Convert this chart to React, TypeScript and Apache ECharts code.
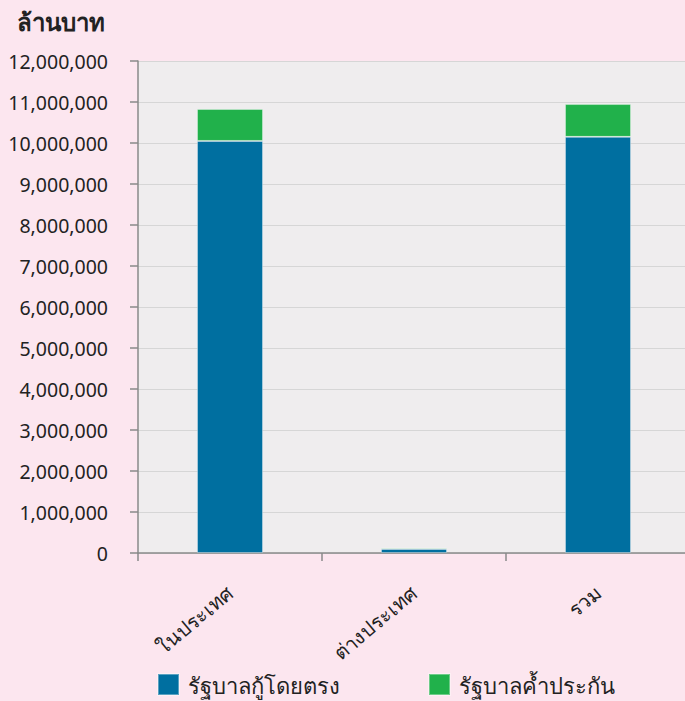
import React, { useEffect, useRef } from "react";
import * as echarts from "echarts";

const categories = ["ในประเทศ", "ต่างประเทศ", "รวม"];
const directBorrowing = [10050000, 100000, 10150000];
const guaranteed = [780000, 30000, 800000];
const seriesNames = ["รัฐบาลกู้โดยตรง", "รัฐบาลค้ำประกัน"];
const unitLabel = "ล้านบาท";

export default function App() {
  const ref = useRef<HTMLDivElement>(null);
  useEffect(() => {
    document.body.style.margin = "0";
    const chart = echarts.init(ref.current!, null, { renderer: "svg" });
    const font = "Noto Sans";
    chart.setOption({
      animation: false,
      backgroundColor: "#fce6ef",
      title: {
        text: unitLabel,
        left: 12,
        top: 4,
        textStyle: { fontSize: 24, fontWeight: "bold", color: "#222", fontFamily: font },
      },
      legend: {
        top: 668,
        left: 152,
        itemWidth: 21,
        itemHeight: 21,
        itemGap: 88,
        icon: "rect",
        textStyle: { fontSize: 22, color: "#222", fontFamily: font, padding: [0, 0, 0, 4] },
        data: seriesNames,
      },
      grid: {
        left: 138,
        top: 61,
        width: 552,
        height: 492,
        show: true,
        backgroundColor: "#efedee",
        borderWidth: 0,
        outerBoundsMode: "none",
        containLabel: false,
      },
      xAxis: {
        type: "category",
        data: categories,
        axisLine: { lineStyle: { color: "#8a8a8a", width: 1.5 } },
        axisTick: { show: true, length: 8, lineStyle: { color: "#8a8a8a", width: 1.5 } },
        axisLabel: { show: true, rotate: 40, fontSize: 20, color: "#222", margin: 37, fontFamily: font },
      },
      yAxis: {
        type: "value",
        min: 0,
        max: 12000000,
        interval: 1000000,
        axisLine: { show: true, lineStyle: { color: "#8a8a8a", width: 1.5 } },
        axisTick: { show: true, length: 8, lineStyle: { color: "#8a8a8a", width: 1.5 } },
        splitLine: { lineStyle: { color: "#d6d6d6", width: 1 } },
        axisLabel: {
          show: true,
          fontSize: 19.5,
          color: "#222",
          margin: 30,
          fontFamily: font,
          formatter: (v: number) => v.toLocaleString("en-US"),
        },
      },
      series: [
        {
          name: seriesNames[0],
          type: "bar",
          stack: "total",
          barWidth: 66,
          data: directBorrowing,
          itemStyle: { color: "#006fa0", borderColor: "rgba(255,255,255,0.35)", borderWidth: 1 },
        },
        {
          name: seriesNames[1],
          type: "bar",
          stack: "total",
          barWidth: 66,
          data: guaranteed,
          itemStyle: { color: "#21b14b", borderColor: "rgba(255,255,255,0.35)", borderWidth: 1 },
        },
      ],
    });
    return () => chart.dispose();
  }, []);
  return <div ref={ref} style={{ width: 685, height: 701 }} />;
}
